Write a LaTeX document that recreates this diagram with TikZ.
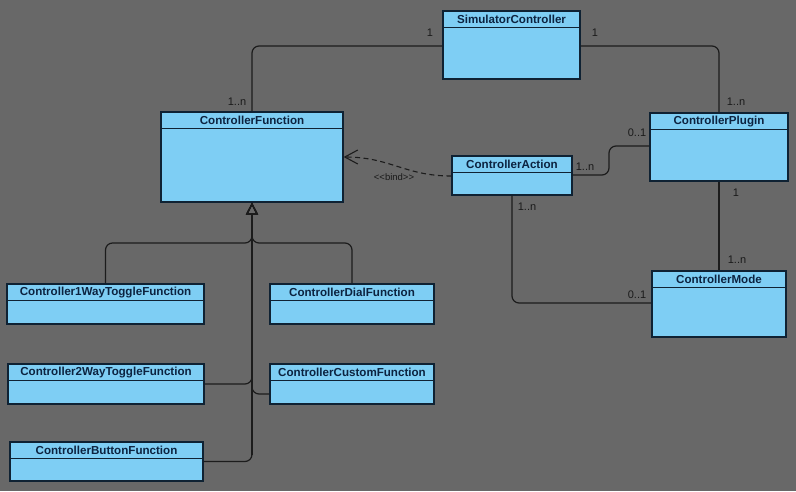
\documentclass[tikz,border=0pt]{standalone}
\usepackage{fontspec}
\setmainfont{Liberation Sans}
\usetikzlibrary{arrows.meta,fit,calc}

\definecolor{canvas}{HTML}{686868}
\definecolor{classfill}{HTML}{7ECEF4}
\definecolor{classedge}{HTML}{0F2233}
\definecolor{wire}{HTML}{1C1C1C}
\definecolor{titleink}{HTML}{0C2340}
\definecolor{labelink}{HTML}{1A1A1A}

\tikzset{
  classbox/.style={draw=classedge, fill=classfill, line width=1.3pt, inner sep=0pt},
  classrule/.style={draw=classedge, line width=1.1pt},
  classtitle/.style={text=titleink, font=\bfseries\fontsize{11.6}{13}\selectfont, inner sep=0pt},
  assoc/.style={draw=wire, line width=1.2pt, rounded corners=7pt},
  gen/.style={draw=wire, line width=1.2pt, rounded corners=7pt,
    -{Triangle[open, length=12pt, width=12pt, line width=1.3pt]}},
  trunkline/.style={draw=wire, line width=2pt},
  dep/.style={draw=wire, line width=1.1pt, dash pattern=on 5pt off 3.5pt,
    -{Straight Barb[length=13pt, width=14pt, line width=1.1pt]}},
  mult/.style={text=labelink, font=\fontsize{11}{12}\selectfont, inner sep=0pt},
  stereo/.style={text=labelink, font=\fontsize{9.5}{11}\selectfont, inner sep=0pt}
}

% class box: name, left, top, right, bottom, title
\newcommand{\umlclass}[6]{%
  \node[classbox, fit={(#2,#3) (#4,#5)}] (#1) {};
  \draw[classrule] ($(#1.north west)+(0,17)$) -- ($(#1.north east)+(0,17)$);
  \node[classtitle] at ($(#1.north)+(0,8.8)$) {#6};
}

\begin{document}
\begin{tikzpicture}[x=1pt, y=-1pt]
  \fill[canvas] (0,0) rectangle (796,491);
  \useasboundingbox (0,0) rectangle (796,491);

  % classes
  \umlclass{sim}{443}{11}{580}{79}{SimulatorController}
  \umlclass{func}{161}{112}{343}{202}{ControllerFunction}
  \umlclass{action}{452}{156}{572}{195}{ControllerAction}
  \umlclass{plugin}{650}{113}{788}{181}{ControllerPlugin}
  \umlclass{mode}{652}{271}{786}{337}{ControllerMode}
  \umlclass{oneway}{7}{284}{204}{324}{Controller1WayToggleFunction}
  \umlclass{dial}{270}{284}{434}{324}{ControllerDialFunction}
  \umlclass{twoway}{8}{364}{204}{404}{Controller2WayToggleFunction}
  \umlclass{custom}{270}{364}{434}{404}{ControllerCustomFunction}
  \umlclass{button}{10}{442}{203}{481}{ControllerButtonFunction}

  % associations
  \draw[assoc] (sim.west |- 0,46) -| (func.north);
  \node[mult] at (430,33) {1};
  \node[mult] at (237,102) {1..n};

  \draw[assoc] (sim.east |- 0,46) -| (plugin.north);
  \node[mult] at (595,33) {1};
  \node[mult] at (736,102) {1..n};

  \draw[assoc] (plugin.south) -- (mode.north);
  \node[mult] at (736,193) {1};
  \node[mult] at (737,260) {1..n};

  \draw[assoc] (action.south) |- (mode.west |- 0,303);
  \node[mult] at (527,207) {1..n};
  \node[mult] at (637,295) {0..1};

  \draw[assoc] (action.east |- 0,175) -- (609,175) -- (609,146) -- (plugin.west |- 0,146);
  \node[mult] at (585,167) {1..n};
  \node[mult] at (637,133) {0..1};

  % dependency
  \draw[dep] (action.west |- 0,176) .. controls (405,176) and (390,157) .. (func.east |- 0,157);
  \node[stereo] at (394,177) {<{}<bind>{}>};

  % generalisations, sharing one heavier trunk
  \draw[trunkline] ($(func.south)+(0,14)$) -- ($(func.south)+(0,252)$);
  \draw[gen] (oneway.north) |- (func.south |- 0,243) -- (func.south);
  \draw[gen] (dial.north) |- (func.south |- 0,243) -- (func.south);
  \draw[gen] (twoway.east) -| (func.south);
  \draw[gen] (custom.west |- 0,394) -| (func.south);
  \draw[gen] (button.east) -| (func.south);
\end{tikzpicture}
\end{document}
